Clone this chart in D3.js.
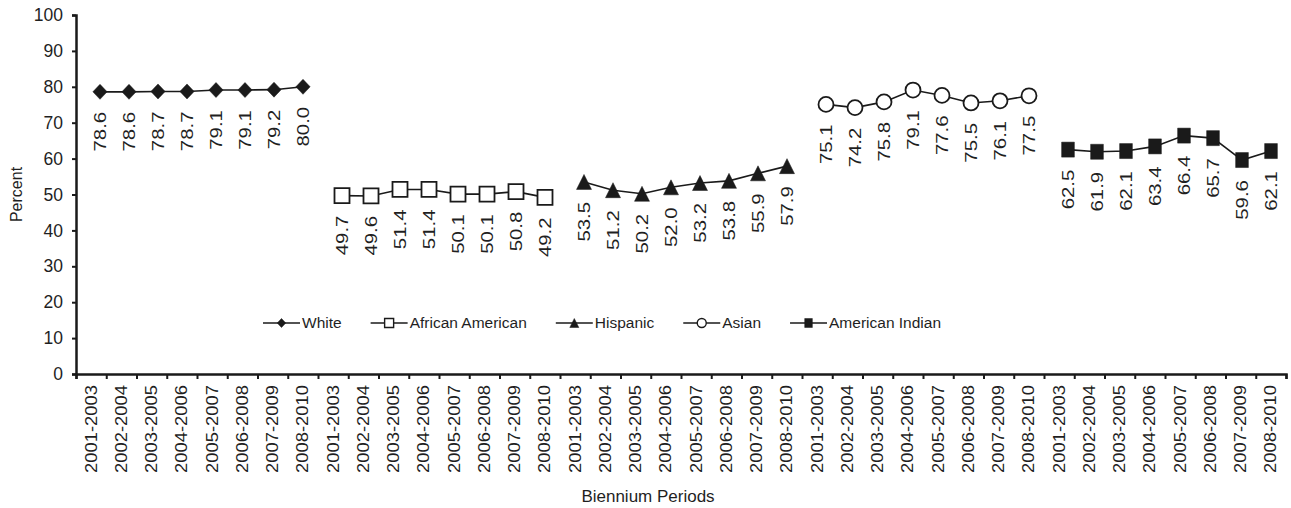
<!DOCTYPE html>
<html>
<head>
<meta charset="utf-8">
<script src="https://cdn.jsdelivr.net/npm/d3@7"></script>
<style>
  html, body { margin: 0; padding: 0; background: #fff; }
  svg text { font-family: "Liberation Sans", Arial, sans-serif; fill: #1f1f1f; }
</style>
</head>
<body>
<svg id="chart" width="1291" height="508"></svg>
<script>
// ---------------- data ----------------
const periods = ["2001-2003","2002-2004","2003-2005","2004-2006","2005-2007","2006-2008","2007-2009","2008-2010"];
const seriesNames = ["White","African American","Hispanic","Asian","American Indian"];
const white   = [78.6, 78.6, 78.7, 78.7, 79.1, 79.1, 79.2, 80.0];
const africanAmerican = [49.7, 49.6, 51.4, 51.4, 50.1, 50.1, 50.8, 49.2];
const hispanic = [53.5, 51.2, 50.2, 52.0, 53.2, 53.8, 55.9, 57.9];
const asian   = [75.1, 74.2, 75.8, 79.1, 77.6, 75.5, 76.1, 77.5];
const americanIndian = [62.5, 61.9, 62.1, 63.4, 66.4, 65.7, 59.6, 62.1];
const yTicks = [0,10,20,30,40,50,60,70,80,90,100];
const yTitle = "Percent";
const xTitle = "Biennium Periods";

const seriesValues = [white, africanAmerican, hispanic, asian, americanIndian];
const markerTypes = ["diamond","openSquare","triangle","openCircle","square"];

// ---------------- layout ----------------
const svg = d3.select("#chart");
const ink = "#1a1a1a";
const mLeft = 76, mRight = 1286, mTop = 15, mBottom = 374;
const nCats = periods.length * seriesNames.length;

const y = d3.scaleLinear().domain([0, 100]).range([mBottom, mTop]);
const xEdge = d3.scaleLinear().domain([0, nCats]).range([mLeft, mRight]);
const cats = d3.range(nCats);
const xBand = d3.scaleBand().domain(cats).range([mLeft, mRight]);

// marker shape paths
function markerPath(type, s) {
  const h = s / 2;
  switch (type) {
    case "diamond": return `M0,${-h}L${h*0.95},0L0,${h}L${-h*0.95},0Z`;
    case "openSquare": return `M${-h},${-h}H${h}V${h}H${-h}Z`;
    case "square": return `M${-h*0.85},${-h}H${h*0.85}V${h}H${-h*0.85}Z`;
    case "triangle": return `M0,${-h}L${h},${h}L${-h},${h}Z`;
    case "openCircle": return d3.symbol(d3.symbolCircle, Math.PI * h * h)();
  }
}
const openType = t => t === "openSquare" || t === "openCircle";

// ---------------- axes ----------------
const yAxis = d3.axisLeft(y).tickValues(yTicks).tickSize(4).tickPadding(9);
const gy = svg.append("g").attr("transform", `translate(${mLeft},0)`).call(yAxis);
gy.select(".domain").attr("stroke", ink).attr("stroke-width", 2.5);
gy.selectAll(".tick line").attr("stroke", ink).attr("stroke-width", 2);
gy.selectAll(".tick text").attr("font-size", 17.5).attr("fill", "#1f1f1f")
  .style("font-family", '"Liberation Sans", Arial, sans-serif');

const xAxis = d3.axisBottom(xEdge).tickValues(d3.range(0, nCats + 1)).tickSize(5).tickFormat("");
const gx = svg.append("g").attr("transform", `translate(0,${mBottom})`).call(xAxis);
gx.select(".domain").attr("stroke", ink).attr("stroke-width", 2.5);
gx.selectAll(".tick line").attr("stroke", ink).attr("stroke-width", 2);

// category labels
svg.append("g").selectAll("text").data(cats).join("text")
  .attr("transform", d => `translate(${xBand(d) + xBand.bandwidth() / 2},${mBottom + 11}) rotate(-90) scale(1.15,1)`)
  .attr("text-anchor", "end")
  .attr("dy", "0.35em")
  .attr("font-size", 16)
  .text(d => periods[d % periods.length]);

// axis titles
svg.append("text")
  .attr("transform", `translate(16,${(mTop + mBottom) / 2}) rotate(-90)`)
  .attr("text-anchor", "middle")
  .attr("dy", "0.35em")
  .attr("font-size", 16)
  .text(yTitle);
svg.append("text")
  .attr("x", 648).attr("y", 502)
  .attr("text-anchor", "middle")
  .attr("font-size", 17)
  .text(xTitle);

// ---------------- series ----------------
seriesValues.forEach((vals, g) => {
  const g0 = xEdge(g * periods.length);
  const xp = d3.scalePoint().domain(periods).range([g0 + 24, g0 + 227]);
  const pts = periods.map((p, i) => ({ p, v: vals[i] }));
  const grp = svg.append("g");
  grp.append("path")
    .datum(pts)
    .attr("fill", "none")
    .attr("stroke", ink)
    .attr("stroke-width", 1.6)
    .attr("d", d3.line().x(d => xp(d.p)).y(d => y(d.v)));
  grp.selectAll("path.mk").data(pts).join("path")
    .attr("class", "mk")
    .attr("transform", d => `translate(${xp(d.p)},${y(d.v)})`)
    .attr("d", markerPath(markerTypes[g], 15))
    .attr("fill", openType(markerTypes[g]) ? "#fff" : ink)
    .attr("stroke", ink)
    .attr("stroke-width", openType(markerTypes[g]) ? 1.8 : 0.5);
  grp.selectAll("text").data(pts).join("text")
    .attr("transform", d => `translate(${xp(d.p)},${y(d.v) + 20}) rotate(-90) scale(1.2,1)`)
    .attr("text-anchor", "end")
    .attr("dy", "0.35em")
    .attr("font-size", 17)
    .text(d => d.v.toFixed(1));
});

// ---------------- legend ----------------
const legend = svg.append("g").attr("transform", "translate(263,323)");
let lx = 0;
seriesNames.forEach((name, i) => {
  const item = legend.append("g").attr("transform", `translate(${lx},0)`);
  item.append("line").attr("x1", 0).attr("x2", 37).attr("y1", 0).attr("y2", 0)
    .attr("stroke", ink).attr("stroke-width", 1.6);
  item.append("path").attr("transform", "translate(18.5,0)")
    .attr("d", markerPath(markerTypes[i], 9))
    .attr("fill", openType(markerTypes[i]) ? "#fff" : ink)
    .attr("stroke", ink).attr("stroke-width", openType(markerTypes[i]) ? 1.4 : 0.5);
  const t = item.append("text").attr("x", 39).attr("dy", "0.35em")
    .attr("font-size", 15.5).text(name);
  lx += 39 + t.node().getComputedTextLength() + 29;
});
</script>
</body>
</html>
